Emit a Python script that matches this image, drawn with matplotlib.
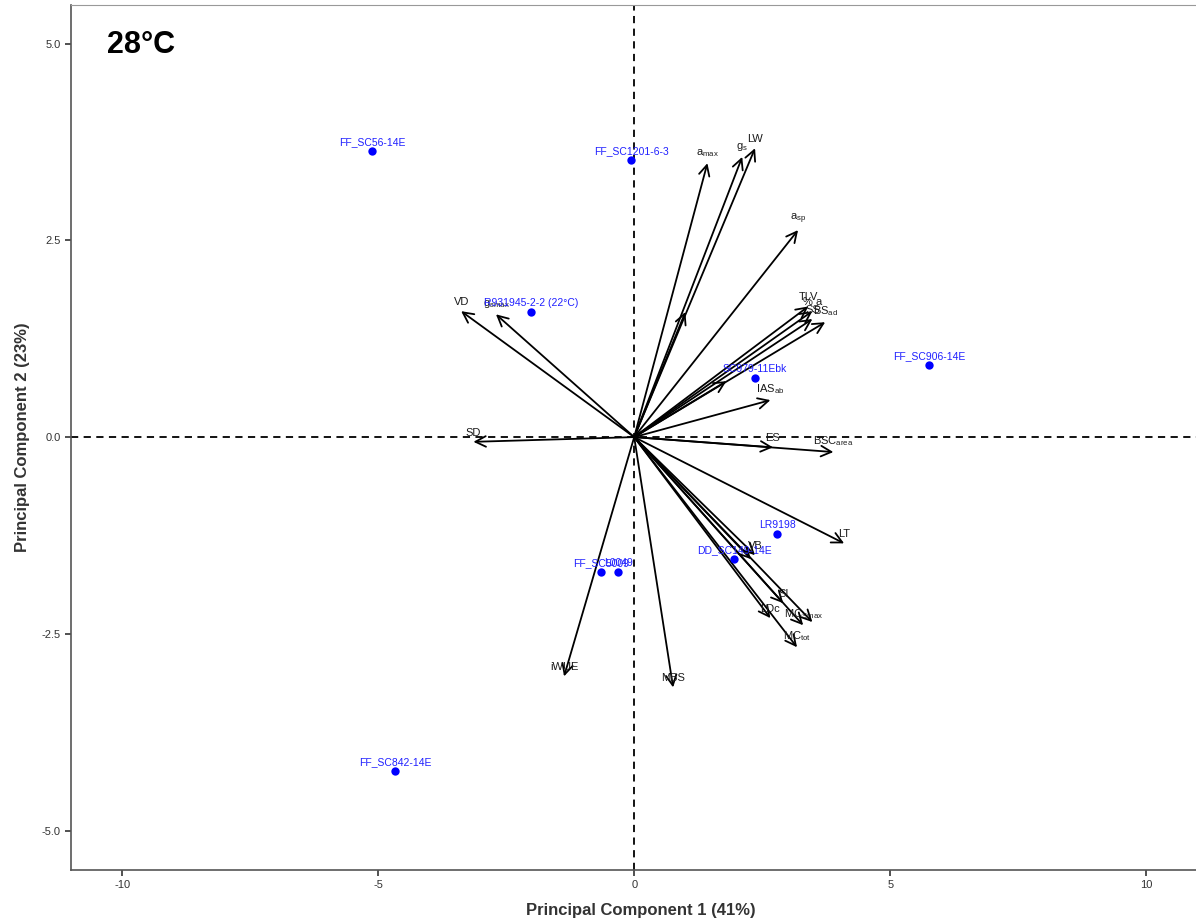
import matplotlib.pyplot as plt
import numpy as np

plt.rcParams['font.family'] = ['Liberation Sans', 'DejaVu Sans']
plt.rcParams['mathtext.fontset'] = 'custom'
plt.rcParams['mathtext.rm'] = 'Liberation Sans'
plt.rcParams['mathtext.it'] = 'Liberation Sans'

# genotype scores (PC1, PC2)
geno_names = ['FF_SC56-14E', 'FF_SC1201-6-3', 'R931945-2-2 (22°C)', 'FF_SC906-14E',
              'SC979-11Ebk', 'LR9198', 'DD_SC149-14E', 'FF_SC5009', 'L0049',
              'FF_SC842-14E']
geno_pc1 = [-5.12, -0.06, -2.01, 5.76, 2.36, 2.79, 1.95, -0.64, -0.31, -4.67]
geno_pc2 = [3.63, 3.52, 1.59, 0.91, 0.75, -1.23, -1.55, -1.72, -1.72, -4.24]

# trait loadings (arrow tips)
trait_names = [r'a$_{max}$', r'g$_s$', 'LW', r'a$_{sp}$', 'TLV', '% a', 'SS',
               r'BS$_{ad}$', '', '', r'IAS$_{ab}$', 'ES', r'BSC$_{area}$', 'SD', 'VD',
               r'g$_{smax}$', 'LT', 'VB', '', 'SI', r'MC$_{Smax}$', '', 'LDc',
               r'MC$_{tot}$', 'iWUE', 'MBS']
trait_pc1 = [1.43, 2.11, 2.36, 3.20, 3.40, 3.48, 3.48, 3.73, 1.80, 1.00, 2.66, 2.71,
             3.89, -3.14, -3.38, -2.70, 4.10, 2.36, 2.28, 2.91, 3.30, 3.48, 2.66,
             3.18, -1.37, 0.76]
trait_pc2 = [3.48, 3.56, 3.67, 2.63, 1.66, 1.60, 1.50, 1.46, 0.71, 1.59, 0.47, -0.13,
             -0.19, -0.06, 1.60, 1.56, -1.35, -1.50, -1.55, -2.11, -2.39, -2.35, -2.30,
             -2.67, -3.04, -3.18]

fig = plt.figure(figsize=(11.96, 9.22), dpi=100)
ax = fig.add_axes([71 / 1196, 52 / 922, 1140 / 1196, 865 / 922])
ax.set_xlim(-11.0, -11.0 + 1140 / 51.2)
ax.set_ylim(-5.5, 5.49)

ax.axhline(0, color='black', lw=1.3, ls=(0, (4, 3)), zorder=1)
ax.axvline(0, color='black', lw=1.3, ls=(0, (4, 3)), zorder=1)

for name, x, y in zip(trait_names, trait_pc1, trait_pc2):
    ax.annotate('', xy=(x, y), xytext=(0, 0),
                arrowprops=dict(arrowstyle='->,head_length=0.75,head_width=0.38',
                                color='black', lw=1.3, shrinkA=0, shrinkB=0),
                zorder=3)
    if name:
        ax.annotate(name, xy=(x, y), xytext=(0, 3), textcoords='offset points',
                    ha='center', va='bottom', fontsize=8, color='#1a1a1a', zorder=4)

ax.scatter(geno_pc1, geno_pc2, s=36, color='#0000ff', zorder=5, linewidths=0)
for name, x, y in zip(geno_names, geno_pc1, geno_pc2):
    ax.annotate(name, xy=(x, y), xytext=(0, 3), textcoords='offset points',
                ha='center', va='bottom', fontsize=7.5, color='#2020ff', zorder=6)

ax.text(36 / 1140, 0.954, '28°C', transform=ax.transAxes,
        fontsize=22, fontweight='bold', va='center', ha='left')

ax.set_xticks([-10, -5, 0, 5, 10])
ax.set_xticklabels(['-10', '-5', '0', '5', '10'])
ax.set_yticks([-5, -2.5, 0, 2.5, 5])
ax.set_yticklabels(['-5.0', '-2.5', '0.0', '2.5', '5.0'])
ax.tick_params(labelsize=8, colors='#333333', length=4, width=1.2)

for side in ['left', 'bottom']:
    ax.spines[side].set_color('#555555')
    ax.spines[side].set_linewidth(1.2)
ax.spines['top'].set_color('#999999')
ax.spines['right'].set_visible(False)

ax.set_xlabel('Principal Component 1 (41%)', fontsize=12, fontweight='bold',
              color='#333333', labelpad=9)
ax.set_ylabel('Principal Component 2 (23%)', fontsize=12, fontweight='bold',
              color='#333333', labelpad=8)

fig.savefig('out.png', dpi=100)
